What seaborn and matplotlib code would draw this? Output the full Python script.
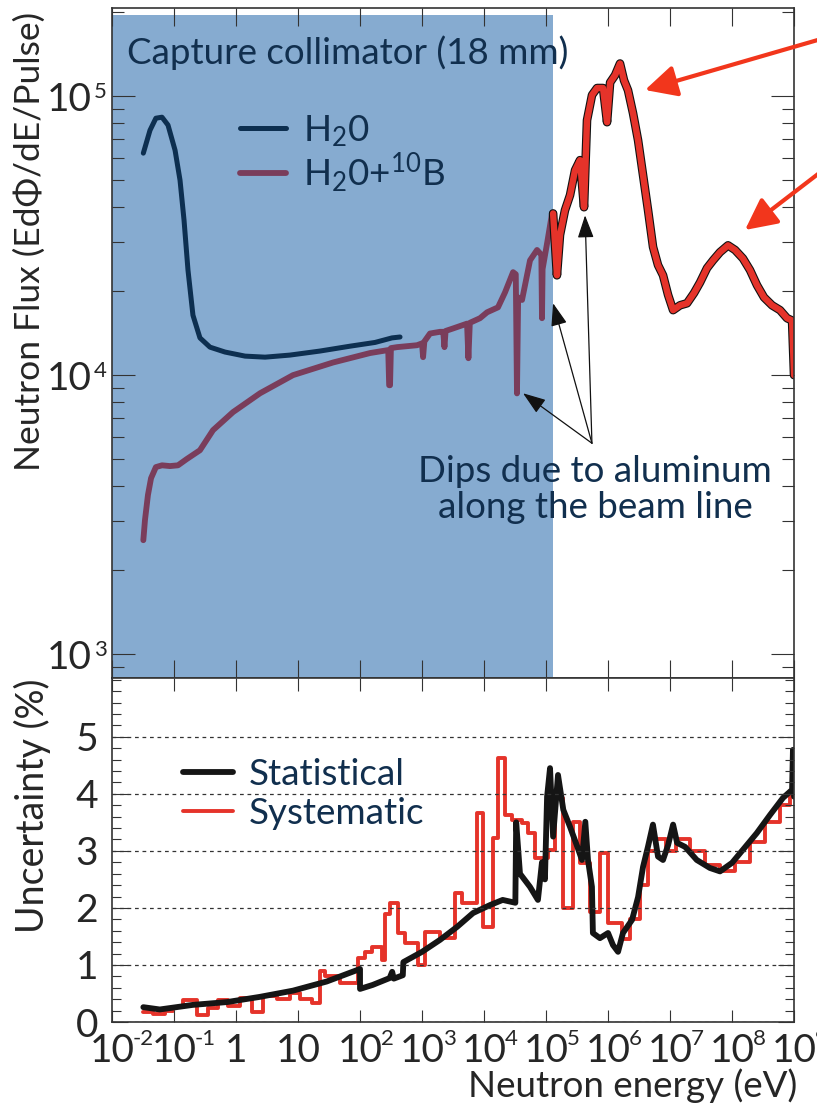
import numpy as np
import seaborn as sns
import matplotlib.pyplot as plt
import matplotlib.ticker as mticker
import matplotlib.patheffects as pe

# ---- data ----
h2o_energy = [0.032, 0.041, 0.051, 0.064, 0.080, 0.104, 0.125, 0.145, 0.168, 0.202, 0.262,
              0.38, 0.665, 1.4, 2.94, 7.4, 22.6, 69, 175, 328, 442]
h2o_flux = [62500, 75500, 83400, 84100, 78800, 64000, 50000, 36000, 23800, 16400, 13600,
            12600, 12100, 11700, 11600, 11800, 12200, 12700, 13100, 13600, 13700]

boron_energy = [0.032, 0.034, 0.038, 0.0426, 0.051, 0.064, 0.086, 0.116, 0.16, 0.262, 0.426,
                0.895, 2.44, 8.3, 36.7, 145, 285, 295, 305, 315, 395, 830, 1000, 1040, 1090,
                1345, 1950, 2200, 2300, 2400, 3160, 5320, 5600, 5900, 8610, 11200, 16800,
                21800, 29400, 32500, 34000, 35500, 41000, 55200, 71600, 84000, 86100, 88000,
                104000, 125000]
boron_flux = [2560, 3020, 3720, 4270, 4680, 4750, 4720, 4750, 5000, 5380, 6350,
              7370, 8610, 10000, 11100, 12000, 12300, 9200, 9200, 12500, 12600, 12800, 13000, 11600, 13200,
              14100, 14300, 14300, 12600, 14400, 14700, 15300, 11500, 15400, 16000, 16800, 17500,
              19800, 23400, 23000, 8600, 19000, 18600, 25800, 28100, 27000, 16000, 24000,
              29700, 38000]

fast_energy = [1.30e5, 1.50e5, 1.68e5, 2.02e5, 2.44e5, 2.94e5, 3.53e5, 4.10e5, 4.58e5, 5.52e5,
               6.65e5, 8.30e5, 9.64e5, 1.08e6, 1.30e6, 1.56e6, 1.81e6, 2.10e6, 2.53e6, 3.05e6,
               3.67e6, 4.42e6, 5.32e6, 6.40e6, 7.71e6, 9.29e6, 1.12e7, 1.45e7, 1.88e7, 2.44e7,
               3.05e7, 3.95e7, 4.94e7, 6.40e7, 8.61e7, 1.12e8, 1.50e8, 1.95e8, 2.53e8, 3.28e8,
               4.42e8, 5.94e8, 7.71e8, 9.29e8, 1.0e9]
fast_flux = [38000, 22800, 31800, 39000, 44200, 54300, 59000, 40000, 82000, 101000,
             107000, 107000, 80700, 112000, 119000, 131000, 114000, 105000, 86900, 69500,
             52100, 39000, 28800, 24800, 22800, 19400, 17100, 17800, 18100, 19700,
             21500, 24200, 25800, 27600, 29200, 28100, 26200, 23800, 21000, 19000,
             17800, 17100, 16000, 15700, 10000]

stat_energy = [0.032, 0.059, 0.2, 0.72, 2.4, 8.3, 29, 100, 100, 160, 300, 330, 350, 490, 500,
               1000, 1950, 3700, 6650, 12500, 20000, 32000, 33000, 38000, 55000, 74000, 86000,
               96000, 1.04e5, 1.16e5, 1.3e5, 1.56e5, 1.9e5, 2.44e5, 3.2e5, 3.8e5, 4.3e5, 4.75e5,
               5.5e5, 5.7e5, 7.4e5, 1.0e6, 1.2e6, 1.45e6, 1.74e6, 2.44e6, 3.05e6, 3.67e6, 4.4e6,
               5.3e6, 6.4e6, 7.7e6, 9.3e6, 1.12e7, 1.3e7, 1.75e7, 2.7e7, 4.4e7, 6.4e7, 1e8, 1.5e8,
               2.5e8, 4.1e8, 6.65e8, 9.3e8, 9.6e8, 1e9]
stat_unc = [0.26, 0.22, 0.30, 0.35, 0.44, 0.55, 0.71, 0.93, 0.58, 0.65, 0.77, 0.88, 0.76, 0.82, 1.05,
            1.23, 1.44, 1.67, 1.91, 2.05, 2.14, 2.09, 3.5, 2.6, 2.37, 2.14, 2.8,
            2.5, 3.95, 4.45, 3.25, 4.33, 3.72, 3.42, 3.07, 2.84, 3.51, 2.84,
            2.37, 1.56, 1.47, 1.56, 1.35, 1.23, 1.56, 1.79, 2.19, 2.72, 3.07,
            3.46, 2.9, 2.84, 3.1, 3.46, 3.14, 3.07, 2.84, 2.7, 2.64, 2.79, 3.02,
            3.31, 3.63, 3.93, 4.07, 4.77, 3.95]

syst_edges = [0.032, 0.046, 0.072, 0.096, 0.14, 0.235, 0.353, 0.51, 0.74, 1.16, 1.81, 2.72, 4.58,
              7.43, 10.8, 16.8, 22.6, 27.3, 47.6, 93, 120, 156, 226, 253, 305, 410, 532, 861,
              1117, 1950, 3400, 4420, 7710, 9630, 13960, 16820, 21800, 28300, 41000, 51300,
              66500, 107700, 139700, 187900, 272300, 353400, 512900, 743000, 1.0e6, 1.68e6,
              2.26e6, 3.28e6, 4.4e6, 5.9e6, 8.6e6, 1.25e7, 2.1e7, 3.7e7, 6.4e7, 1.12e8, 1.95e8,
              3.4e8, 5.9e8, 8.6e8, 1e9]
syst_unc = [0.18, 0.14, 0.20, 0.27, 0.39, 0.12, 0.24, 0.38, 0.28, 0.42, 0.18, 0.45, 0.40,
            0.50, 0.40, 0.33, 0.90, 0.80, 0.68, 1.12, 1.23, 1.32, 1.09, 1.90, 2.09, 1.56, 1.39, 1.00,
            1.58, 1.47, 2.26, 2.09, 3.66, 1.67, 3.23, 4.63, 3.63, 3.54, 3.49, 3.32,
            2.88, 3.02, 3.93, 2.00, 3.51, 2.79, 1.93, 2.96, 1.74, 1.45,
            1.80, 2.40, 3.00, 3.20, 3.00, 3.20, 3.00, 2.75, 2.65, 2.80, 3.15,
            3.50, 3.80, 4.05, 4.05]

decades = list(range(-2, 10))
flux_decades = [3, 4, 5]
shade_end = 1.3e5

NAVY = '#0d2f50'
MAROON = '#7a3d5b'
RED = '#e5332a'
SHADE = '#86abd0'
TXT = '#112f4e'

sns.set_style('ticks')
plt.rcParams['font.family'] = ['Lato', 'DejaVu Sans']
plt.rcParams['mathtext.fontset'] = 'custom'
plt.rcParams['mathtext.rm'] = 'Lato'
plt.rcParams['mathtext.it'] = 'Lato:italic'
plt.rcParams['mathtext.bf'] = 'Lato:bold'
plt.rcParams['axes.edgecolor'] = '#333333'
FS = 26.5
FS_TICK = 28
FS_EXP = 16

fig = plt.figure(figsize=(8.17, 11.08), dpi=100)
ax1 = fig.add_axes([0.1371, 0.388, 0.8348, 0.6047])
ax2 = fig.add_axes([0.1371, 0.0776, 0.8348, 0.3105], sharex=ax1)

# ---- top panel: flux ----
ax1.set_xscale('log')
ax1.set_yscale('log')
ax1.axvspan(1e-2, shade_end, ymax=0.99, color=SHADE, lw=0, zorder=0)
sns.lineplot(x=h2o_energy, y=h2o_flux, ax=ax1, color=NAVY, lw=3.6,
             estimator=None, sort=False, label=r'H$_{\mathregular{2}}$0')
sns.lineplot(x=boron_energy, y=boron_flux, ax=ax1, color=MAROON, lw=4.2,
             estimator=None, sort=False, label=r'H$_{\mathregular{2}}$0+$^{\mathregular{10}}$B')
sns.lineplot(x=fast_energy, y=fast_flux, ax=ax1, color=RED, lw=4.6,
             estimator=None, sort=False,
             path_effects=[pe.Stroke(linewidth=6.2, foreground='#111111'), pe.Normal()])
ax1.set_xlim(1e-2, 1e9)
ax1.set_ylim(820, 2.07e5)

handles, labels = ax1.get_legend_handles_labels()
ax1.legend(handles[:2], labels[:2], loc='center left', bbox_to_anchor=(0.188, 0.782),
           frameon=False, fontsize=FS, handlelength=1.25, handletextpad=0.45,
           labelspacing=0.05, borderpad=0, borderaxespad=0, labelcolor=TXT)

ax1.text(0.022, 0.934, 'Capture collimator (18 mm)', transform=ax1.transAxes,
         fontsize=FS, color=TXT, ha='left', va='center')
ax1.text(0.708, 0.281, 'Dips due to aluminum\nalong the beam line', transform=ax1.transAxes,
         fontsize=FS, color=TXT, ha='center', va='center', linespacing=1.1)

tail = (5.5e5, 5700)
for head in [(4.26e4, 8610), (1.3e5, 18100), (4.26e5, 37400)]:
    ax1.annotate('', xy=head, xytext=tail,
                 arrowprops=dict(arrowstyle='-|>,head_length=0.7,head_width=0.25',
                                 color='#111111', lw=0.9, mutation_scale=20,
                                 shrinkA=0, shrinkB=0))

for head, start in [((645, 1018), (835, 1073)), ((745, 878), (835, 947))]:
    ax1.annotate('', xy=head, xytext=start, xycoords='figure pixels',
                 textcoords='figure pixels', annotation_clip=False,
                 arrowprops=dict(arrowstyle='-|>,head_length=0.6,head_width=0.3',
                                 color='#f2361c', lw=3.0, mutation_scale=32,
                                 shrinkA=0, shrinkB=0))

ax1.set_ylabel('Neutron Flux (EdΦ/dE/Pulse)', fontsize=25.5)
ax1.yaxis.set_label_coords(-0.097, 0.652)
ax1.tick_params(axis='x', which='both', labelbottom=False)
ax1.yaxis.set_major_formatter(mticker.FixedFormatter(['10'] * len(flux_decades)))
ax1.set_yticks([10.0 ** d for d in flux_decades])
for d in flux_decades:
    ax1.annotate(str(d), xy=(0, 10.0 ** d), xycoords=('axes fraction', 'data'),
                 xytext=(-13.2, 10), textcoords='offset points',
                 ha='left', va='top', fontsize=FS_EXP)

# ---- bottom panel: uncertainty ----
sns.lineplot(x=syst_edges, y=syst_unc, ax=ax2, color=RED, lw=2.8,
             estimator=None, sort=False, drawstyle='steps-post', label='Systematic')
sns.lineplot(x=stat_energy, y=stat_unc, ax=ax2, color='#151515', lw=4.2,
             estimator=None, sort=False, label='Statistical')
ax2.set_ylim(0, 6.03)
ax2.set_yticks(range(0, 6))
ax2.yaxis.set_minor_locator(mticker.MultipleLocator(0.2))
ax2.yaxis.grid(True, which='major', linestyle=(0, (3, 3)), color='#333333', lw=0.9)
ax2.set_axisbelow(False)

h2, l2 = ax2.get_legend_handles_labels()
ax2.legend([h2[1], h2[0]], [l2[1], l2[0]], loc='center left', bbox_to_anchor=(0.104, 0.663),
           frameon=False, fontsize=FS, handlelength=1.35, handletextpad=0.45,
           labelspacing=0.15, borderpad=0, borderaxespad=0, labelcolor=TXT)

ax2.set_xticks([10.0 ** d for d in decades])
ax2.xaxis.set_major_formatter(mticker.FixedFormatter(
    ['1' if d == 0 else '10' for d in decades]))
for d in decades:
    if d in (0, 1):
        continue
    ax2.annotate(str(d), xy=(10.0 ** d, 0), xycoords=('data', 'axes fraction'),
                 xytext=(14.8, -5), textcoords='offset points',
                 ha='left', va='top', fontsize=FS_EXP, annotation_clip=False)

ax2.set_ylabel('Uncertainty (%)', fontsize=27)
ax2.yaxis.set_label_coords(-0.09, 0.63)
ax2.set_xlabel('Neutron energy (eV)', fontsize=FS, loc='right')
ax2.xaxis.set_label_coords(1.005, -0.185)
ax2.xaxis.label.set_va('center')

# ---- tick styling ----
for ax in (ax1, ax2):
    ax.tick_params(which='both', direction='in', top=True, right=True,
                   width=0.8, color='#333333', labelsize=FS_TICK)
    for sp in ax.spines.values():
        sp.set_linewidth(1.2)
ax1.tick_params(axis='y', which='major', length=16.5, pad=14.4)
ax1.tick_params(axis='y', which='minor', length=8.6)
ax1.tick_params(axis='x', which='major', length=13)
ax1.tick_params(axis='x', which='minor', length=8.6)
ax2.tick_params(axis='x', which='major', length=9, pad=8)
ax2.tick_params(axis='x', which='minor', length=4.5)
ax2.tick_params(axis='y', which='major', length=11.5, pad=10)
ax2.tick_params(axis='y', which='minor', length=6.7)

fig.savefig('out.png', dpi=100)
